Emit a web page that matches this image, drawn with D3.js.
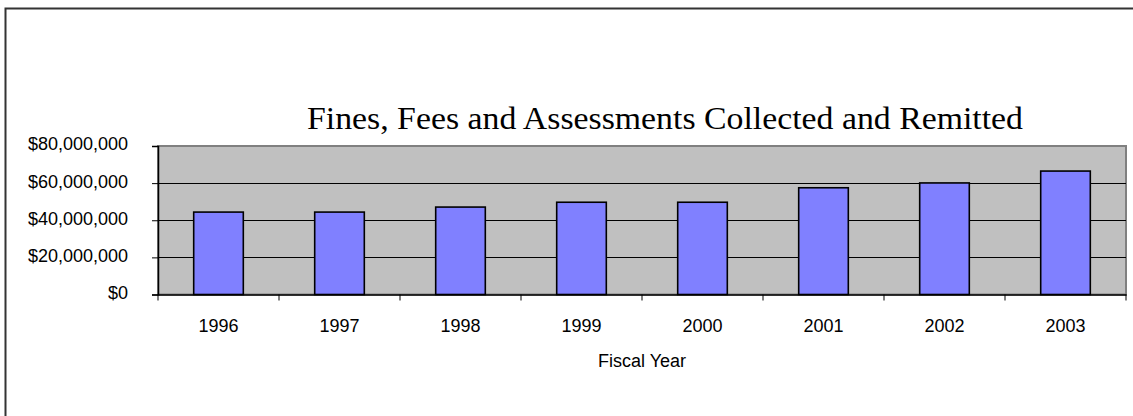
<!DOCTYPE html>
<html>
<head>
<meta charset="utf-8">
<script src="https://cdn.jsdelivr.net/npm/d3@7"></script>
<style>
    body { margin: 0; background: #fff; overflow: hidden; }
    svg { display: block; }
</style>
</head>
<body>
<div id="chart"></div>
<script>
// Chart data.
var years = ["1996", "1997", "1998", "1999", "2000", "2001", "2002", "2003"];
var collected = [44400000, 44400000, 47100000, 49700000, 49700000, 57500000, 60100000, 66500000];
var y_ticks = [0, 20000000, 40000000, 60000000, 80000000];

var title_text = "Fines, Fees and Assessments Collected and Remitted";
var x_title = "Fiscal Year";

// Canvas and plot area.
var width = 1133, height = 416;
var plot = {left: 158, right: 1126, top: 146, bottom: 294.5};

var svg = d3.select("div#chart").append("svg")
    .attr("width", width)
    .attr("height", height);

// Outer chart frame (runs off the right and bottom edges).
svg.append("rect")
    .attr("x", 5.5).attr("y", 8.5)
    .attr("width", width + 100).attr("height", height + 100)
    .style("fill", "#fff")
    .style("stroke", "#333")
    .style("stroke-width", 2);

var x_scale = d3.scaleBand()
    .domain(years)
    .range([plot.left, plot.right])
    .paddingInner(0.59)
    .paddingOuter(0.295);

var x_cat = d3.scaleBand()
    .domain(years)
    .range([plot.left, plot.right]);

var y_scale = d3.scaleLinear()
    .domain([0, 80000000])
    .range([plot.bottom, plot.top]);

// Plot background.
svg.append("rect")
    .attr("x", plot.left).attr("y", plot.top)
    .attr("width", plot.right - plot.left)
    .attr("height", plot.bottom - plot.top)
    .style("fill", "#c0c0c0")
    .style("stroke", "#808080")
    .style("stroke-width", 2);

// Gridlines.
svg.append("g")
    .attr("id", "grid")
    .selectAll("line")
        .data(y_ticks.filter(d => d > 0 && d < 80000000))
        .join("line")
            .attr("x1", plot.left).attr("x2", plot.right)
            .attr("y1", d => Math.round(y_scale(d)) + 0.5)
            .attr("y2", d => Math.round(y_scale(d)) + 0.5)
            .style("stroke", "#000")
            .style("stroke-width", 1.2);

// Bars.
svg.append("g")
    .attr("id", "bars")
    .selectAll("rect")
        .data(collected)
        .join("rect")
            .attr("x", (d, i) => x_scale(years[i]))
            .attr("y", d => y_scale(d))
            .attr("width", x_scale.bandwidth())
            .attr("height", d => plot.bottom - y_scale(d))
            .style("fill", "#8080ff")
            .style("stroke", "#000")
            .style("stroke-width", 1.6);

// Y axis.
var fmt = d3.format("$,");
var y_axis = svg.append("g")
    .attr("transform", "translate(" + plot.left + ", 0)")
    .call(d3.axisLeft(y_scale).tickValues(y_ticks).tickSize(6).tickPadding(24)
        .tickFormat(d => fmt(d)));

y_axis.selectAll(".tick text").attr("dy", "0.22em");

// X axis.
var x_axis = svg.append("g")
    .attr("transform", "translate(0, " + plot.bottom + ")")
    .call(d3.axisBottom(x_cat).tickSize(0).tickPadding(24.5));

x_axis.selectAll(".tick-mark")
    .data(d3.range(years.length + 1))
    .join("line")
        .attr("class", "tick-mark")
        .attr("x1", i => plot.left + i * x_cat.step())
        .attr("x2", i => plot.left + i * x_cat.step())
        .attr("y1", 0).attr("y2", 6)
        .style("stroke", "#000");

[y_axis, x_axis].forEach(function(a) {
    a.select(".domain").style("stroke", "#000").style("stroke-width", 1.5);
    a.selectAll(".tick line").style("stroke", "#000");
    a.selectAll("text")
        .style("font-family", "'Liberation Sans', Arial, sans-serif")
        .style("font-size", "18px")
        .style("fill", "#000");
});

// Axis title.
svg.append("text")
    .attr("x", (plot.left + plot.right) / 2)
    .attr("y", 367)
    .attr("text-anchor", "middle")
    .style("font-family", "'Liberation Sans', Arial, sans-serif")
    .style("font-size", "18px")
    .text(x_title);

// Chart title.
svg.append("text")
    .attr("x", 665)
    .attr("y", 129)
    .attr("text-anchor", "middle")
    .attr("textLength", 716)
    .attr("lengthAdjust", "spacingAndGlyphs")
    .style("font-family", "'Liberation Serif', 'Times New Roman', serif")
    .style("font-size", "32px")
    .text(title_text);
</script>
</body>
</html>
